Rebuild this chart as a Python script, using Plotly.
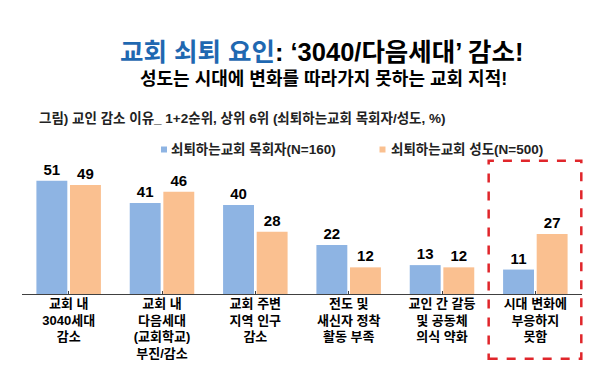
import plotly.graph_objects as go

categories = [
    "교회 내<br>3040세대<br>감소",
    "교회 내<br>다음세대<br>(교회학교)<br>부진/감소",
    "교회 주변<br>지역 인구<br>감소",
    "전도 및<br>새신자 정착<br>활동 부족",
    "교인 간 갈등<br>및 공동체<br>의식 약화",
    "시대 변화에<br>부응하지<br>못함",
]
series_names = ["쇠퇴하는교회 목회자(N=160)", "쇠퇴하는교회 성도(N=500)"]
pastors = [51, 41, 40, 22, 13, 11]
members = [49, 46, 28, 12, 12, 27]

title_blue = "교회 쇠퇴 요인"
title_rest = ": ‘3040/다음세대’ 감소!"
subtitle = "성도는 시대에 변화를 따라가지 못하는 교회 지적!"
chart_note = "그림) 교인 감소 이유_ 1+2순위, 상위 6위 (쇠퇴하는교회 목회자/성도, %)"

BLUE = "#8EB4E3"
ORANGE = "#FAC090"
FONT = "Liberation Sans, Noto Sans CJK KR, sans-serif"

W, H = 600, 388
ML, MR, MT, MB = 14, 26, 150, 102
PW = W - ML - MR
PH = H - MT - MB
PX_PER_UNIT = 2.222
YMAX = PH / PX_PER_UNIT


def px_x(px):
    return (px - ML) / PW


def px_y(py):
    return (H - MB - py) / PH


x_idx = list(range(len(categories)))

fig = go.Figure()
for name, vals, col in [(series_names[0], pastors, BLUE), (series_names[1], members, ORANGE)]:
    fig.add_trace(go.Bar(
        x=x_idx, y=vals, name=name, marker_color=col, marker_line_width=0,
        text=vals, textposition="outside", cliponaxis=False,
        textfont=dict(family=FONT, size=15, color="black", weight="bold"),
        showlegend=False,
    ))

fig.update_layout(
    width=W, height=H,
    margin=dict(l=ML, r=MR, t=MT, b=MB),
    paper_bgcolor="white", plot_bgcolor="white",
    barmode="group", bargap=0.28, bargroupgap=0.08,
    showlegend=False,
    font=dict(family=FONT, color="black"),
)
fig.update_xaxes(
    tickvals=x_idx, ticktext=[f"<b>{c}</b>" for c in categories],
    range=[-0.5, len(categories) - 0.5],
    showline=True, linecolor="#404040", linewidth=1,
    ticks="inside", tickson="boundaries", ticklen=3, tickcolor="#404040",
    tickfont=dict(family=FONT, size=13, color="black"),
    ticklabelstandoff=-3,
    showgrid=False, zeroline=False,
)
fig.update_yaxes(range=[0, YMAX], visible=False, showgrid=False, zeroline=False)

annotations = [
    dict(text=f"<b><span style='color:#1F68B1'>{title_blue}</span>{title_rest}</b>",
         x=px_x(313), y=px_y(44), font=dict(size=25.5, family=FONT, color="black"),
         xanchor="center", yanchor="middle"),
    dict(text=f"<b>{subtitle}</b>", x=px_x(315), y=px_y(71),
         font=dict(size=18, family=FONT, color="black"), xanchor="center", yanchor="middle"),
    dict(text=f"<b>{chart_note}</b>", x=px_x(29), y=px_y(110),
         font=dict(size=13.5, family=FONT, color="#222222"), xanchor="left", yanchor="middle"),
    dict(text=f"<b>{series_names[0]}</b>", x=px_x(161), y=px_y(141.5),
         font=dict(size=13.5, family=FONT, color="#222222"), xanchor="left", yanchor="middle"),
    dict(text=f"<b>{series_names[1]}</b>", x=px_x(381), y=px_y(141.5),
         font=dict(size=13.5, family=FONT, color="#222222"), xanchor="left", yanchor="middle"),
]
for a in annotations:
    a.update(xref="paper", yref="paper", showarrow=False)
fig.update_layout(annotations=annotations)

shapes = [
    dict(type="rect", x0=px_x(153), x1=px_x(159), y0=px_y(144.5), y1=px_y(138.5),
         fillcolor=BLUE, line_width=0),
    dict(type="rect", x0=px_x(371.5), x1=px_x(377.5), y0=px_y(144.5), y1=px_y(138.5),
         fillcolor=ORANGE, line_width=0),
    dict(type="rect", x0=5 / 6, x1=px_x(573.3), y0=px_y(350.7), y1=px_y(152.7),
         line=dict(color="#E0262B", width=2.5, dash="dash"), fillcolor="rgba(0,0,0,0)"),
]
for s in shapes:
    s.update(xref="paper", yref="paper")
fig.update_layout(shapes=shapes)

fig.write_html("out.html")
